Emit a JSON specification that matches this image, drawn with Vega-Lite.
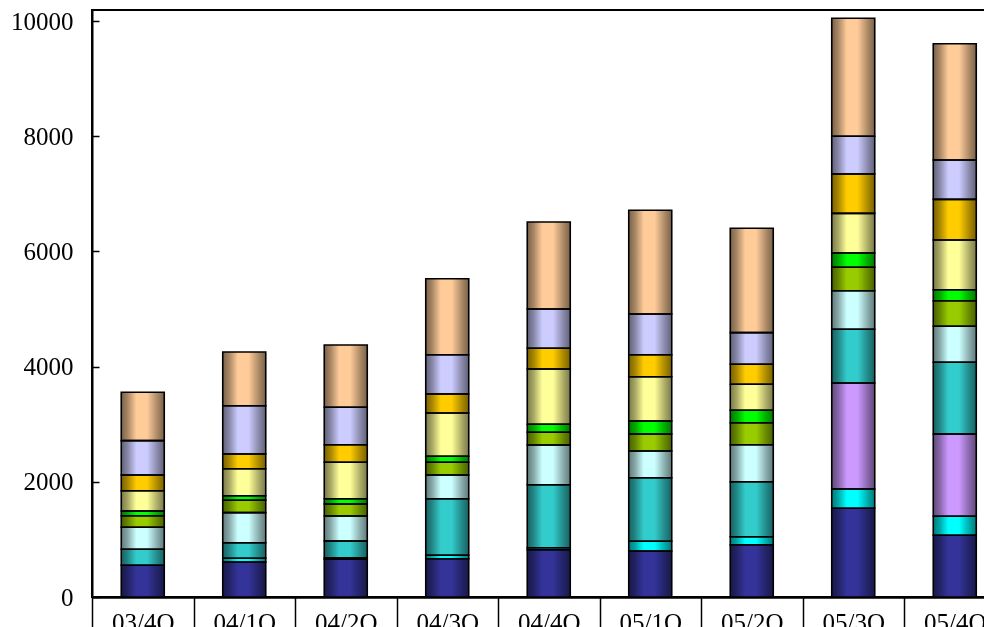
{
  "$schema": "https://vega.github.io/schema/vega-lite/v6.json",
  "autosize": "none",
  "padding": {"left": 92, "top": 10, "right": 0, "bottom": 30},
  "width": 913.5,
  "height": 587,
  "background": "white",
  "config": {
    "view": {"stroke": "black", "strokeWidth": 2},
    "axis": {
      "labelFont": "Liberation Serif",
      "labelFontSize": 25,
      "labelColor": "black",
      "domainColor": "black",
      "tickColor": "black",
      "grid": false,
      "title": null
    }
  },
  "data": {
    "values": [
      {"q": "03/4Q", "s": "s01", "v": 550},
      {"q": "03/4Q", "s": "s04", "v": 278},
      {"q": "03/4Q", "s": "s05", "v": 382},
      {"q": "03/4Q", "s": "s06", "v": 201},
      {"q": "03/4Q", "s": "s07", "v": 82},
      {"q": "03/4Q", "s": "s08", "v": 352},
      {"q": "03/4Q", "s": "s09", "v": 273},
      {"q": "03/4Q", "s": "s10", "v": 596},
      {"q": "03/4Q", "s": "s11", "v": 840},

      {"q": "04/1Q", "s": "s01", "v": 608},
      {"q": "04/1Q", "s": "s02", "v": 64},
      {"q": "04/1Q", "s": "s04", "v": 271},
      {"q": "04/1Q", "s": "s05", "v": 521},
      {"q": "04/1Q", "s": "s06", "v": 215},
      {"q": "04/1Q", "s": "s07", "v": 80},
      {"q": "04/1Q", "s": "s08", "v": 468},
      {"q": "04/1Q", "s": "s09", "v": 256},
      {"q": "04/1Q", "s": "s10", "v": 838},
      {"q": "04/1Q", "s": "s11", "v": 932},

      {"q": "04/2Q", "s": "s01", "v": 655},
      {"q": "04/2Q", "s": "s02", "v": 27},
      {"q": "04/2Q", "s": "s04", "v": 290},
      {"q": "04/2Q", "s": "s05", "v": 434},
      {"q": "04/2Q", "s": "s06", "v": 209},
      {"q": "04/2Q", "s": "s07", "v": 92},
      {"q": "04/2Q", "s": "s08", "v": 632},
      {"q": "04/2Q", "s": "s09", "v": 305},
      {"q": "04/2Q", "s": "s10", "v": 649},
      {"q": "04/2Q", "s": "s11", "v": 1082},

      {"q": "04/3Q", "s": "s01", "v": 665},
      {"q": "04/3Q", "s": "s02", "v": 59},
      {"q": "04/3Q", "s": "s04", "v": 983},
      {"q": "04/3Q", "s": "s05", "v": 411},
      {"q": "04/3Q", "s": "s06", "v": 221},
      {"q": "04/3Q", "s": "s07", "v": 104},
      {"q": "04/3Q", "s": "s08", "v": 751},
      {"q": "04/3Q", "s": "s09", "v": 330},
      {"q": "04/3Q", "s": "s10", "v": 683},
      {"q": "04/3Q", "s": "s11", "v": 1319},

      {"q": "04/4Q", "s": "s01", "v": 821},
      {"q": "04/4Q", "s": "s02", "v": 35},
      {"q": "04/4Q", "s": "s04", "v": 1094},
      {"q": "04/4Q", "s": "s05", "v": 689},
      {"q": "04/4Q", "s": "s06", "v": 220},
      {"q": "04/4Q", "s": "s07", "v": 139},
      {"q": "04/4Q", "s": "s08", "v": 960},
      {"q": "04/4Q", "s": "s09", "v": 360},
      {"q": "04/4Q", "s": "s10", "v": 682},
      {"q": "04/4Q", "s": "s11", "v": 1510},

      {"q": "05/1Q", "s": "s01", "v": 799},
      {"q": "05/1Q", "s": "s02", "v": 168},
      {"q": "05/1Q", "s": "s04", "v": 1104},
      {"q": "05/1Q", "s": "s05", "v": 464},
      {"q": "05/1Q", "s": "s06", "v": 295},
      {"q": "05/1Q", "s": "s07", "v": 226},
      {"q": "05/1Q", "s": "s08", "v": 769},
      {"q": "05/1Q", "s": "s09", "v": 382},
      {"q": "05/1Q", "s": "s10", "v": 706},
      {"q": "05/1Q", "s": "s11", "v": 1801},

      {"q": "05/2Q", "s": "s01", "v": 908},
      {"q": "05/2Q", "s": "s02", "v": 139},
      {"q": "05/2Q", "s": "s04", "v": 955},
      {"q": "05/2Q", "s": "s05", "v": 642},
      {"q": "05/2Q", "s": "s06", "v": 382},
      {"q": "05/2Q", "s": "s07", "v": 215},
      {"q": "05/2Q", "s": "s08", "v": 452},
      {"q": "05/2Q", "s": "s09", "v": 347},
      {"q": "05/2Q", "s": "s10", "v": 549},
      {"q": "05/2Q", "s": "s11", "v": 1812},

      {"q": "05/3Q", "s": "s01", "v": 1540},
      {"q": "05/3Q", "s": "s02", "v": 335},
      {"q": "05/3Q", "s": "s03", "v": 1840},
      {"q": "05/3Q", "s": "s04", "v": 933},
      {"q": "05/3Q", "s": "s05", "v": 670},
      {"q": "05/3Q", "s": "s06", "v": 406},
      {"q": "05/3Q", "s": "s07", "v": 248},
      {"q": "05/3Q", "s": "s08", "v": 689},
      {"q": "05/3Q", "s": "s09", "v": 683},
      {"q": "05/3Q", "s": "s10", "v": 654},
      {"q": "05/3Q", "s": "s11", "v": 2049},

      {"q": "05/4Q", "s": "s01", "v": 1071},
      {"q": "05/4Q", "s": "s02", "v": 330},
      {"q": "05/4Q", "s": "s03", "v": 1429},
      {"q": "05/4Q", "s": "s04", "v": 1245},
      {"q": "05/4Q", "s": "s05", "v": 625},
      {"q": "05/4Q", "s": "s06", "v": 444},
      {"q": "05/4Q", "s": "s07", "v": 191},
      {"q": "05/4Q", "s": "s08", "v": 863},
      {"q": "05/4Q", "s": "s09", "v": 706},
      {"q": "05/4Q", "s": "s10", "v": 683},
      {"q": "05/4Q", "s": "s11", "v": 2019}
    ]
  },
  "encoding": {
    "x": {
      "field": "q",
      "type": "nominal",
      "sort": null,
      "scale": {"paddingInner": 0, "paddingOuter": 0},
      "axis": {
        "labelAngle": 0,
        "domainWidth": 2.5,
        "tickBand": "extent",
        "tickSize": 40,
        "tickWidth": 1.5,
        "labelPadding": -27,
        "labelBaseline": "top"
      }
    },
    "y": {
      "field": "v",
      "type": "quantitative",
      "aggregate": "sum",
      "stack": "zero",
      "scale": {"domain": [0, 10191], "nice": false},
      "axis": {
        "values": [0, 2000, 4000, 6000, 8000, 10000],
        "format": "d",
        "domainWidth": 2,
        "tickSize": -7,
        "tickWidth": 1.5,
        "labelPadding": 26
      }
    },
    "order": {"field": "s", "sort": "ascending"},
    "detail": {"field": "s", "type": "nominal"}
  },
  "layer": [
    {
      "mark": {"type": "bar", "size": 43},
      "encoding": {
        "color": {
          "field": "s",
          "type": "nominal",
          "legend": null,
          "scale": {
            "domain": ["s01", "s02", "s03", "s04", "s05", "s06", "s07", "s08", "s09", "s10", "s11"],
            "range": ["#333399", "#00FFFF", "#CC99FF", "#33CCCC", "#CCFFFF", "#99CC00", "#00FF00", "#FFFF99", "#FFCC00", "#CCCCFF", "#FFCC99"]
          }
        }
      }
    },
    {
      "mark": {
        "type": "bar",
        "size": 43,
        "blend": "multiply",
        "stroke": "black",
        "strokeWidth": 1.6,
        "fill": {
          "gradient": "linear",
          "x1": 0, "y1": 0, "x2": 1, "y2": 0,
          "stops": [
            {"offset": 0, "color": "#7a7a7a"},
            {"offset": 0.15, "color": "#a8a8a8"},
            {"offset": 0.35, "color": "#ffffff"},
            {"offset": 0.6, "color": "#ffffff"},
            {"offset": 0.85, "color": "#a8a8a8"},
            {"offset": 1, "color": "#7a7a7a"}
          ]
        }
      }
    }
  ]
}
